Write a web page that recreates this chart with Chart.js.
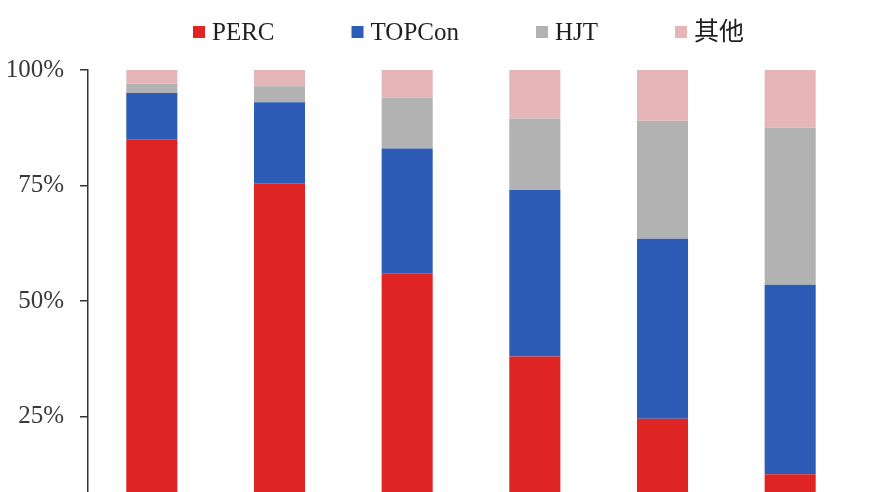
<!DOCTYPE html>
<html>
<head>
<meta charset="utf-8">
<script src="https://cdn.jsdelivr.net/npm/chart.js@4.4.1/dist/chart.umd.min.js"></script>
<style>
  html, body { margin: 0; padding: 0; background: #ffffff; overflow: hidden; }
  #wrap { width: 870px; height: 572px; }
</style>
</head>
<body>
<div id="wrap"><canvas id="c" width="870" height="572"></canvas></div>
<script>
const categories = ['2022', '2023E', '2024E', '2025E', '2026E', '2027E'];
const perc   = [85, 75.5, 56, 38, 24.5, 12.5];
const topcon = [10, 17.5, 27, 36, 39, 41];
const hjt    = [2, 3.5, 11, 15.5, 25.5, 34];
const other  = [3, 3.5, 6, 10.5, 11, 12.5];
const seriesNames = ['PERC', 'TOPCon', 'HJT', '其他'];
const yTicks = [0, 25, 50, 75, 100];

const FONT = '"Liberation Serif", "Times New Roman", "Noto Sans CJK SC", serif';
const colors = ['#DF2424', '#2C5CB5', '#B2B2B2', '#E6B5B7'];
const seriesData = [perc, topcon, hjt, other];

// Legend drawn on the canvas from the chart's own datasets
const legendPlugin = {
  id: 'topLegend',
  afterDraw(chart) {
    const ctx = chart.ctx;
    ctx.save();
    ctx.font = '25px ' + FONT;
    ctx.textBaseline = 'middle';
    ctx.textAlign = 'left';
    let x = 193;
    const yMid = 32;
    chart.data.datasets.forEach((ds) => {
      ctx.fillStyle = ds.backgroundColor;
      ctx.fillRect(x, yMid - 6, 12, 12);
      x += 12 + 7;
      ctx.fillStyle = '#1f1f1f';
      ctx.fillText(ds.label, x, yMid + 1);
      x += ctx.measureText(ds.label).width + 77;
    });
    ctx.restore();
  }
};

new Chart(document.getElementById('c'), {
  type: 'bar',
  data: {
    labels: categories,
    datasets: seriesData.map((d, i) => ({
      label: seriesNames[i],
      data: d,
      backgroundColor: colors[i],
      borderWidth: 0,
      barPercentage: 0.4,
      categoryPercentage: 1.0
    }))
  },
  plugins: [legendPlugin],
  options: {
    responsive: false,
    animation: false,
    layout: { padding: { left: 0, right: 16, top: 70, bottom: 0 } },
    plugins: {
      legend: { display: false },
      tooltip: { enabled: false }
    },
    scales: {
      x: {
        stacked: true,
        grid: { display: false, drawTicks: false },
        border: { display: true, color: '#333333', width: 1.5 },
        ticks: { font: { family: FONT, size: 25 }, color: '#3a3a3a', padding: 8 },
        afterFit: (s) => { s.height = 40; }
      },
      y: {
        stacked: true,
        min: 0,
        max: 100,
        afterBuildTicks: (s) => { s.ticks = yTicks.map(v => ({ value: v })); },
        grid: { display: true, drawOnChartArea: false, drawTicks: true, tickLength: 8, color: '#333333', lineWidth: 1.5 },
        border: { display: true, color: '#333333', width: 1.5 },
        ticks: {
          font: { family: FONT, size: 25 },
          color: '#3a3a3a',
          padding: 16,
          callback: (v) => v + '%'
        },
        afterFit: (s) => { s.width = 88; }
      }
    }
  }
});
</script>
</body>
</html>
